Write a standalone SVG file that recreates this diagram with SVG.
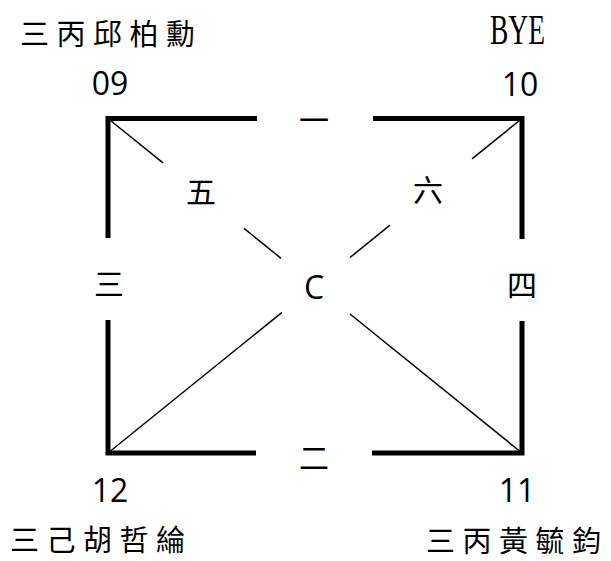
<svg xmlns="http://www.w3.org/2000/svg" width="611" height="561" viewBox="0 0 611 561">
<style>
.edge{fill:none;stroke:#000;stroke-width:5;stroke-linejoin:miter;stroke-linecap:butt}
.diag{fill:none;stroke:#000;stroke-width:1.5}
.name{font-family:"Noto Sans CJK TC","Noto Sans CJK SC",sans-serif;font-size:29px;letter-spacing:7.5px;fill:#000}
.num{font-family:"Open Sans","Liberation Sans",sans-serif;font-size:32px;fill:#000;text-anchor:middle}
.lbl{font-family:"Noto Sans CJK TC","Noto Sans CJK SC",sans-serif;font-size:30px;fill:#000;text-anchor:middle}
</style>
<rect width="611" height="561" fill="#fff"/>
<g id="connectors">
<path class="edge" d="M257,118.5 H108 V238"/>
<path class="edge" d="M373,118.5 H522 V239"/>
<path class="edge" d="M108,320 V453 H256"/>
<path class="edge" d="M372,453 H522 V321"/>
<line class="diag" x1="108" y1="118.5" x2="163" y2="162.9"/>
<line class="diag" x1="244" y1="228.4" x2="281" y2="258.3"/>
<line class="diag" x1="350" y1="314" x2="522" y2="453"/>
<line class="diag" x1="522" y1="118.5" x2="472" y2="158.9"/>
<line class="diag" x1="390" y1="225.2" x2="350" y2="257.5"/>
<line class="diag" x1="282" y1="312.4" x2="108" y2="453"/>
<text class="lbl" x="314" y="131">一</text>
<text class="lbl" x="314" y="469">二</text>
<text class="lbl" x="109" y="295">三</text>
<text class="lbl" x="522" y="296">四</text>
<text class="lbl" x="201" y="203">五</text>
<text class="lbl" x="428" y="201">六</text>
</g>
<g id="node-09">
<text class="name" x="20" y="45">三丙邱柏勳</text>
<text class="num" x="110" y="95">09</text>
</g>
<g id="node-10">
<text x="490" y="44" font-family="Liberation Serif,serif" font-size="42" textLength="55" lengthAdjust="spacingAndGlyphs">BYE</text>
<text class="num" x="520" y="96">10</text>
</g>
<g id="node-12">
<text class="num" x="110" y="502">12</text>
<text class="name" x="10" y="551">三己胡哲綸</text>
</g>
<g id="node-11">
<text class="num" x="517" y="502">11</text>
<text class="name" x="426" y="552">三丙黃毓鈞</text>
</g>
<g id="node-C">
<text class="num" x="314" y="299">C</text>
</g>
</svg>
